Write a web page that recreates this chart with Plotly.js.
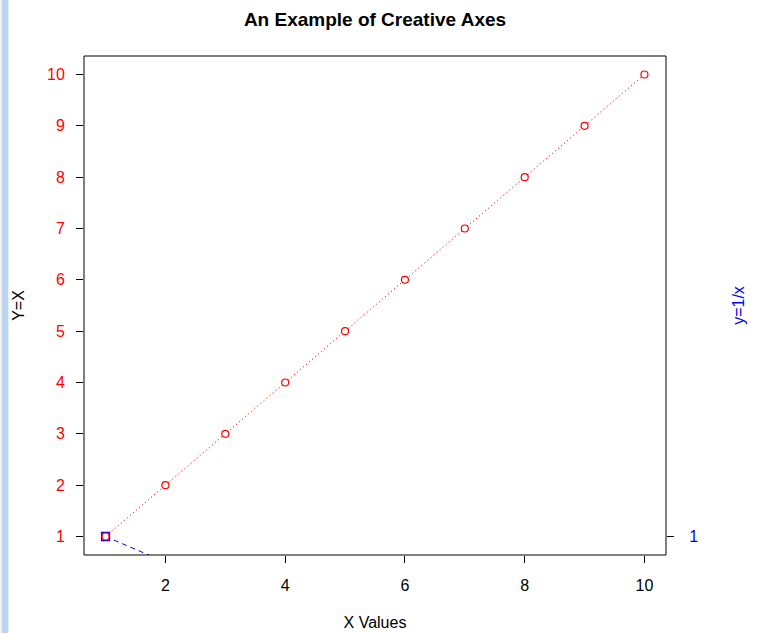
<!DOCTYPE html>
<html>
<head>
<meta charset="utf-8">
<script src="https://cdn.plot.ly/plotly-3.0.1.min.js"></script>
<style>
html,body{margin:0;padding:0;background:#fff;}
#strip{position:absolute;left:0;top:0;width:9px;height:633px;background:linear-gradient(to right,#f0f0f0 0px,#f0f0f0 2px,#bcd4ec 2px,#bcd4ec 8px,#e8eef6 8px);}
#chart{position:absolute;left:0;top:0;width:766px;height:633px;}
</style>
</head>
<body>
<div id="chart"></div>
<div id="strip"></div>
<script>
const xValues = [1, 2, 3, 4, 5, 6, 7, 8, 9, 10];
const yLinear = [1, 2, 3, 4, 5, 6, 7, 8, 9, 10];
const yInverse = [1, 0.5, 0.333, 0.25, 0.2, 0.167, 0.143, 0.125, 0.111, 0.1];
const xTicks = [2, 4, 6, 8, 10];
const yTicks = [1, 2, 3, 4, 5, 6, 7, 8, 9, 10];
const y2Ticks = [1];

const font = "Liberation Sans, Arial, sans-serif";
const traces = [
  {
    x: xValues, y: yInverse, type: 'scatter', mode: 'lines+markers',
    line: {color: 'blue', dash: '5px,4px', width: 1},
    marker: {symbol: 'square-open', size: 8, color: 'blue', line: {width: 1.3}},
    hoverinfo: 'skip', cliponaxis: true
  },
  {
    x: xValues, y: yLinear, type: 'scatter', mode: 'lines+markers',
    line: {color: 'red', dash: '1.2px,2.8px', width: 1},
    marker: {symbol: 'circle', size: 7, color: 'white', line: {color: 'red', width: 1.2}},
    hoverinfo: 'skip', cliponaxis: true
  }
];

const layout = {
  width: 766, height: 633,
  margin: {l: 84, r: 100, t: 56, b: 78, pad: 0},
  paper_bgcolor: 'white', plot_bgcolor: 'white',
  showlegend: false,
  font: {family: font, size: 16, color: 'black'},
  title: {text: '<b>An Example of Creative Axes</b>', font: {family: font, size: 19, color: 'black'},
          xref: 'container', x: 375/766, xanchor: 'center', yref: 'container', y: 1 - 19/633, yanchor: 'middle'},
  xaxis: {
    range: [0.64, 10.36], tickvals: xTicks, ticktext: xTicks.map(String),
    ticks: 'outside', ticklen: 7, tickwidth: 1, tickcolor: 'black',
    showgrid: false, zeroline: false, showline: false,
    tickfont: {size: 16, color: 'black'}, ticklabelstandoff: 9,
    title: {text: 'X Values', font: {size: 16, color: 'black'}, standoff: 23}
  },
  yaxis: {
    range: [0.64, 10.36], tickvals: yTicks, ticktext: yTicks.map(String),
    ticks: 'outside', ticklen: 7, tickwidth: 1, tickcolor: 'black',
    showgrid: false, zeroline: false, showline: false,
    tickfont: {size: 16, color: 'red'}, ticklabelstandoff: 8,
    title: {text: 'Y=X', font: {size: 16, color: 'black'}, standoff: 18}
  },
  yaxis2: {
    overlaying: 'y', side: 'right', anchor: 'x',
    range: [0.64, 10.36], tickvals: y2Ticks, ticktext: y2Ticks.map(String),
    ticks: 'outside', ticklen: 7, tickwidth: 1, tickcolor: 'black',
    showgrid: false, zeroline: false, showline: false,
    tickfont: {size: 16, color: 'blue'}, ticklabelstandoff: 12,
    title: {text: 'y=1/x', font: {size: 16, color: 'blue'}, standoff: 35}
  },
  shapes: [{type: 'rect', xref: 'paper', yref: 'paper', x0: 0, x1: 1, y0: 0, y1: 1,
            line: {color: 'black', width: 1}, fillcolor: 'rgba(0,0,0,0)'}]
};

// invisible trace so that the right-hand axis is drawn
traces.push({x: [xValues[0]], y: [y2Ticks[0]], yaxis: 'y2', type: 'scatter', mode: 'markers',
             marker: {opacity: 0}, hoverinfo: 'skip'});

Plotly.newPlot('chart', traces, layout, {staticPlot: true, displayModeBar: false});
</script>
</body>
</html>
